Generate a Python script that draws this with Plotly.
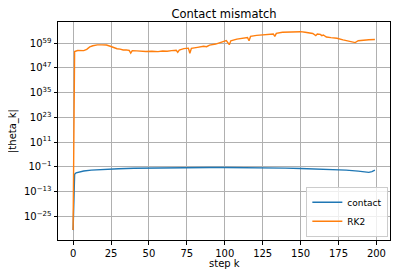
import plotly.graph_objects as go

# step indices and values (|theta_k|)
contact_k = [0, 1, 2, 4, 7, 12, 18, 25, 30, 40, 50, 60, 75, 90, 100, 110, 125,
             140, 150, 160, 170, 180, 188, 193, 195, 197, 199]
contact_vals = [2e-32, 2.5e-5, 1.3e-4, 4e-4, 1e-3, 2.5e-3, 5e-3, 9e-3, 1.3e-2,
                2e-2, 2.8e-2, 3.5e-2, 4.5e-2, 5e-2, 5e-2, 5e-2, 4e-2,
                2.5e-2, 1.6e-2, 1e-2, 6.3e-3, 2.5e-3, 8e-4, 2.5e-4, 2e-4, 5e-4, 2.5e-3]

rk2_k = [0, 1, 3, 5, 7, 9, 11, 13, 16, 19, 22, 25, 27, 29, 31, 33, 35, 37, 38, 39,
         42, 45, 48, 52, 55, 56, 59, 62, 65, 68, 69, 70, 73, 76, 77, 78, 82, 86, 88,
         90, 94, 98, 101, 103, 104, 108, 112, 115, 116, 117, 121, 125, 129, 132,
         133, 134, 138, 142, 146, 150, 153, 156, 158, 160, 161, 163, 164, 165, 167,
         170, 174, 178, 181, 184, 186, 188, 191, 195, 199]
rk2_vals = [2e-32, 1e55, 3e55, 4e55, 2.5e55, 1e56, 1.6e57, 6e57, 1.6e58, 1.6e58,
            1.3e58, 2.5e57, 6e56, 2e56, 1.3e56, 5e55, 6e55, 3e55, 1.6e54, 2.5e55,
            2e55, 1.3e55, 1e55, 1.3e55, 6e54, 8e54, 1.6e55, 1.2e55, 2.5e55, 4e55,
            4e54, 5e55, 2.5e56, 4e56, 1.3e54, 3.2e56, 1e57, 3.2e57, 2e57,
            1.3e58, 4e58, 3.2e59, 2e60, 2e58, 1.6e60, 1e61, 2.5e61, 6.3e61, 1.6e60,
            2e62, 6.3e62, 1.3e63, 2.5e63, 3.2e63, 2e62, 6.3e63, 2e64, 3.2e64,
            3.2e64, 4e64, 2e64, 8e63, 5e63, 5e62, 3.2e63, 2e63, 5e62, 1e63, 1e62,
            5e61, 2.5e61, 4e60, 1e60, 2.5e59, 2e59, 1.6e60, 3.2e60, 5e60, 6.3e60]

y_tick_exps = [-25, -13, -1, 11, 23, 35, 47, 59]
x_tick_vals = [0, 25, 50, 75, 100, 125, 150, 175, 200]

fig = go.Figure()
fig.add_trace(go.Scatter(x=contact_k, y=contact_vals, mode="lines", name="contact",
                         line=dict(color="#1f77b4", width=1.4)))
fig.add_trace(go.Scatter(x=rk2_k, y=rk2_vals, mode="lines", name="RK2",
                         line=dict(color="#ff7f0e", width=1.4)))

# the page body adds an 8px offset, so the figure is sized 392x270
fig.update_layout(
    width=392, height=270,
    margin=dict(l=50, r=10, t=14, b=38),
    paper_bgcolor="white", plot_bgcolor="white",
    font=dict(family="DejaVu Sans", size=10, color="black"),
    title=dict(text="Contact mismatch", x=0.5, xref="paper", xanchor="center",
               y=0.978, yref="container", yanchor="middle", pad=dict(t=0, b=0),
               font=dict(family="DejaVu Sans", size=11.5, color="black")),
    showlegend=True,
    legend=dict(x=0.995, y=0.015, xanchor="right", yanchor="bottom",
                bgcolor="rgba(255,255,255,0.8)", bordercolor="#cccccc",
                borderwidth=1, font=dict(family="DejaVu Sans", size=9),
                tracegroupgap=0, itemwidth=30),
    annotations=[
        dict(text="step k", x=0.5, y=0, xref="paper", yref="paper",
             xanchor="center", yanchor="top", yshift=-16, showarrow=False,
             font=dict(family="DejaVu Sans", size=10, color="black")),
        dict(text="|theta_k|", x=0, y=0.5, xref="paper", yref="paper",
             xanchor="center", yanchor="middle", xshift=-45, textangle=-90,
             showarrow=False, font=dict(family="DejaVu Sans", size=10, color="black")),
    ],
)
fig.update_xaxes(range=[-9.95, 208.95], tickvals=x_tick_vals, automargin=False,
                 showgrid=True, gridcolor="#b0b0b0", gridwidth=0.8,
                 showline=True, linecolor="black", linewidth=1, mirror=True,
                 ticks="outside", ticklen=3.5, tickcolor="black", zeroline=False,
                 tickfont=dict(family="DejaVu Sans", size=10, color="black"))
fig.update_yaxes(type="log", range=[-36.5, 69.3], automargin=False,
                 tickvals=[10.0 ** e for e in y_tick_exps],
                 ticktext=["10<sup>%s</sup>" % (str(e).replace("-", "\u2212")) for e in y_tick_exps],
                 showgrid=True, gridcolor="#b0b0b0", gridwidth=0.8,
                 showline=True, linecolor="black", linewidth=1, mirror=True,
                 ticks="outside", ticklen=3.5, tickcolor="black", zeroline=False,
                 tickfont=dict(family="DejaVu Sans", size=10, color="black"))

fig.write_html("out.html")
